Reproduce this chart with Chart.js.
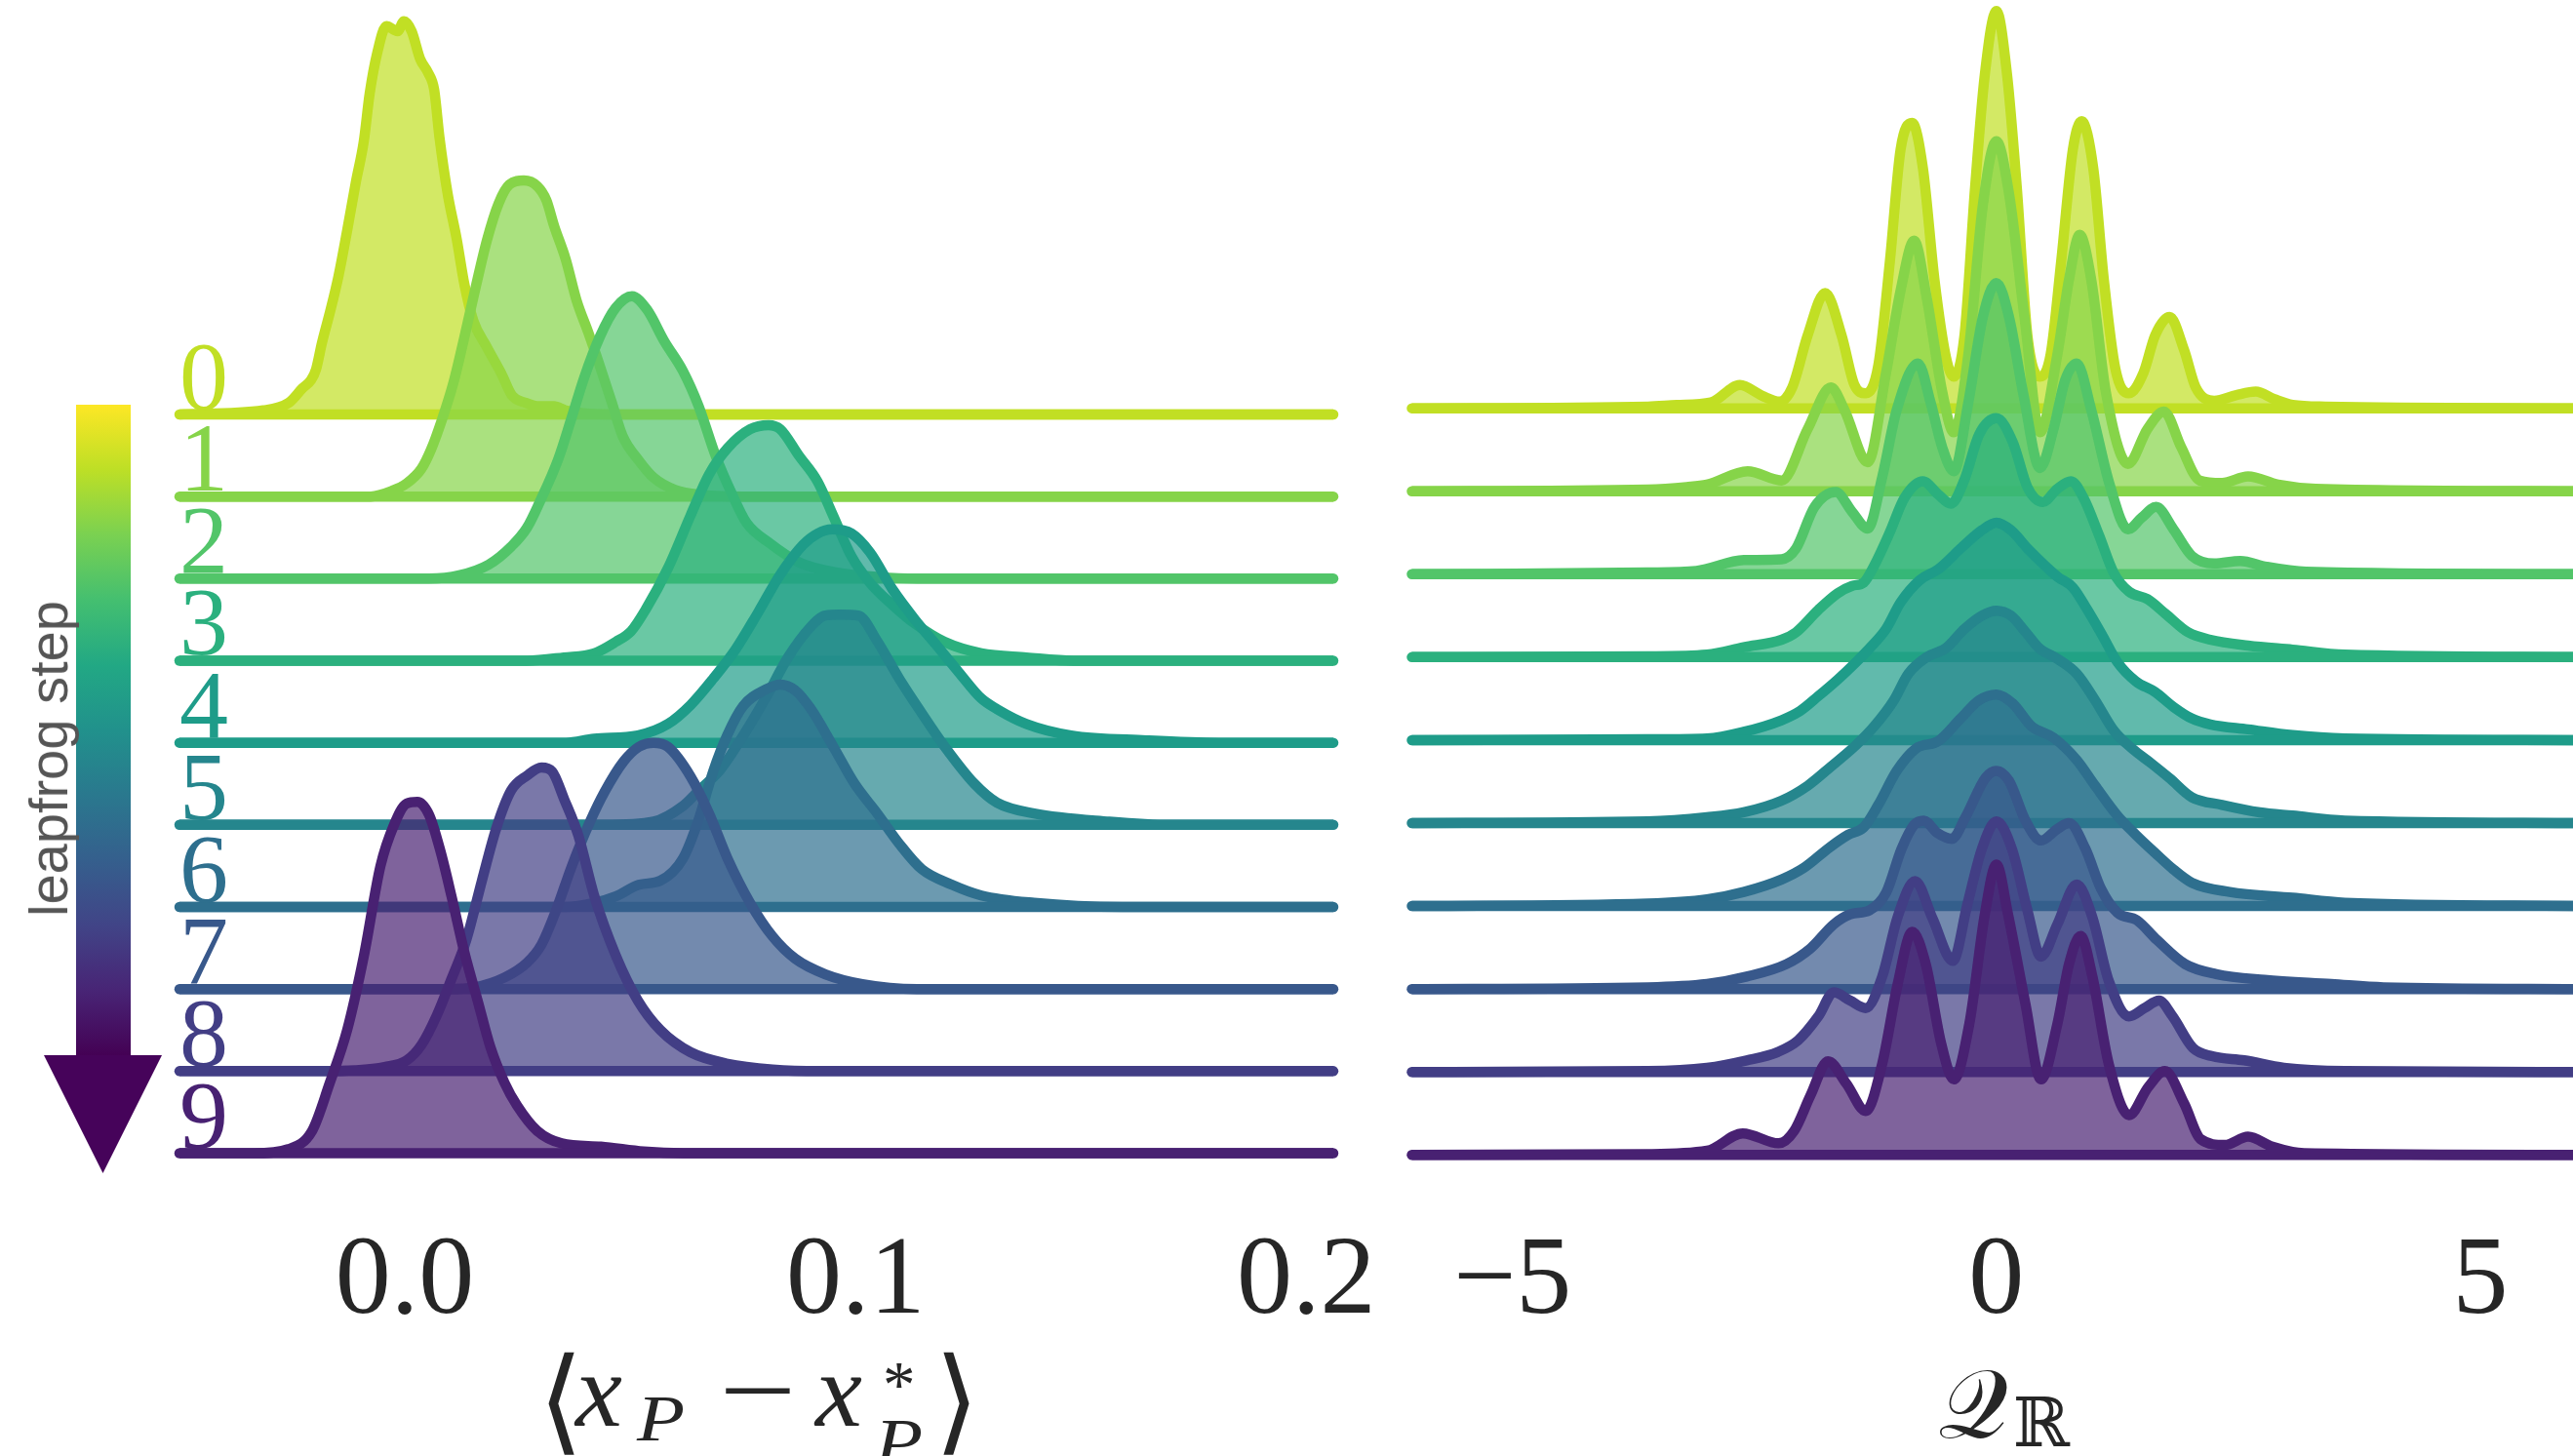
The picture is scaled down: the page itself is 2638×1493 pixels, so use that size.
<!DOCTYPE html>
<html>
<head>
<meta charset="utf-8">
<title>Leapfrog step ridgelines</title>
<script src="https://cdn.jsdelivr.net/npm/chart.js@4.4.1/dist/chart.umd.min.js"></script>
<style>
  html, body { margin: 0; padding: 0; background: #ffffff; width: 2638px; height: 1493px; overflow: hidden; }
  .panel { position: absolute; top: 0; }
  #shiftPanel { left: 0; width: 1420px; height: 1493px; }
  #chargePanel { left: 1420px; width: 1230px; height: 1493px; }
  .colorbar { position: absolute; left: 78px; top: 415px; width: 56px; height: 668px;
    background: linear-gradient(to bottom, #fde725 0%, #bddf26 10%, #7ad151 20%, #44bf70 30%, #22a884 40%,
      #21918c 50%, #2a788e 60%, #355f8d 70%, #414487 80%, #482475 90%, #440154 100%); }
  .arrowhead { position: absolute; left: 45px; top: 1082px; width: 121px; height: 121px; background: #46035a;
    clip-path: polygon(0 0, 100% 0, 50% 100%); }
  .cbar-label { position: absolute; left: 50px; top: 778px; transform: translate(-50%, -50%) rotate(-90deg);
    font-family: 'Liberation Sans', Arial, sans-serif; font-size: 56px; color: #555555; white-space: nowrap; line-height: 1; }
  .m { position: absolute; font-family: 'Liberation Serif', 'DejaVu Serif', serif; color: #262626; line-height: 1; white-space: nowrap; }
  .it { font-style: italic; }
  .wide { transform: scaleX(1.2); transform-origin: left center; }
  .op { transform: scaleX(1.3); transform-origin: left center; }
  .dv { font-family: 'DejaVu Serif', 'DejaVu Sans', serif; }
</style>
</head>
<body>
<div id="shiftPanel" class="panel"><canvas id="shiftChart" width="1420" height="1493"></canvas></div>
<div id="chargePanel" class="panel"><canvas id="chargeChart" width="1230" height="1493"></canvas></div>

<div class="colorbar"></div>
<div class="arrowhead"></div>
<div class="cbar-label">leapfrog step</div>

<!-- ⟨x_P − x*_P⟩ -->
<span class="m dv" style="left:552px; top:1376px; font-size:118px;">⟨</span>
<span class="m it" style="left:590px; top:1372px; font-size:108px;">x</span>
<span class="m it wide" style="left:653px; top:1421px; font-size:67px;">P</span>
<span class="m op" style="left:737px; top:1372px; font-size:108px;">−</span>
<span class="m it" style="left:836px; top:1372px; font-size:108px;">x</span>
<span class="m" style="left:905px; top:1386px; font-size:67px;">*</span>
<span class="m it wide" style="left:897px; top:1445px; font-size:67px;">P</span>
<span class="m dv" style="left:958px; top:1376px; font-size:118px;">⟩</span>

<!-- Q_R -->
<span class="m dv" style="left:1987px; top:1390px; font-size:100px;">𝒬</span>
<span class="m dv" style="left:2064px; top:1424px; font-size:70px;">ℝ</span>

<script>
// leapfrog steps, top row first
const steps = ['0', '1', '2', '3', '4', '5', '6', '7', '8', '9'];

const shiftTicks = [0, 0.1, 0.2];
const shiftTickLabels = ['0.0', '0.1', '0.2'];
const chargeTicks = [-5, 0, 5];
const chargeTickLabels = ['\u22125', '0', '5'];

// density of <x_P - x*_P> per step: [value, height in row spacings]
const shift0 = [[-0.05,0],[-0.0314,0.05],[-0.0258,0.14],[-0.0227,0.32],[-0.0208,0.42],[-0.0197,0.55],[-0.0184,0.87],[-0.0165,1.27],[-0.0147,1.69],[-0.0128,2.24],[-0.0109,2.82],[-0.0091,3.33],[-0.0078,3.91],[-0.0061,4.41],[-0.0041,4.73],[-0.0016,4.67],[-0.0002,4.79],[0.0015,4.67],[0.0034,4.33],[0.0052,4.16],[0.0065,3.96],[0.0077,3.37],[0.0095,2.69],[0.0115,2.14],[0.0132,1.59],[0.0152,1.14],[0.0182,0.82],[0.0214,0.50],[0.0238,0.23],[0.0269,0.14],[0.0294,0.10],[0.0331,0.10],[0.0357,0.05],[0.045,0],[0.206,0]];
const shift1 = [[-0.05,0],[-0.0076,0],[-0.0028,0.07],[0.0004,0.16],[0.0037,0.34],[0.0058,0.57],[0.0082,0.93],[0.0108,1.39],[0.0132,1.94],[0.0158,2.57],[0.0182,3.12],[0.0208,3.57],[0.0232,3.80],[0.0264,3.85],[0.0294,3.78],[0.0314,3.61],[0.0331,3.30],[0.0357,2.89],[0.0381,2.39],[0.0407,2.00],[0.0426,1.70],[0.0459,1.15],[0.0483,0.74],[0.0519,0.44],[0.0552,0.23],[0.0600,0.08],[0.0660,0.02],[0.075,0],[0.206,0]];
const shift2 = [[-0.05,0],[0.0054,0],[0.0121,0.04],[0.0186,0.17],[0.0236,0.39],[0.0271,0.62],[0.0299,0.93],[0.0340,1.45],[0.0370,1.96],[0.0398,2.45],[0.0433,2.95],[0.0468,3.30],[0.0504,3.44],[0.0537,3.28],[0.0576,2.89],[0.0617,2.53],[0.0652,2.10],[0.0690,1.49],[0.0725,1.04],[0.0758,0.68],[0.0810,0.43],[0.0874,0.20],[0.0952,0.08],[0.1050,0.02],[0.1136,0],[0.206,0]];
const shift3 = [[-0.05,0],[0.0271,0],[0.0353,0.04],[0.0420,0.09],[0.0468,0.23],[0.0502,0.36],[0.0535,0.63],[0.0584,1.13],[0.0634,1.77],[0.0675,2.27],[0.0716,2.59],[0.0766,2.82],[0.0807,2.87],[0.0833,2.82],[0.0874,2.50],[0.0916,2.18],[0.0950,1.77],[0.0991,1.27],[0.1032,0.95],[0.1082,0.68],[0.1132,0.45],[0.1197,0.23],[0.1279,0.09],[0.1379,0.04],[0.1483,0],[0.206,0]];
const shift4 = [[-0.05,0],[0.0357,0],[0.0420,0.05],[0.0517,0.09],[0.0584,0.23],[0.0634,0.46],[0.0684,0.78],[0.0734,1.14],[0.0784,1.59],[0.0833,2.05],[0.0883,2.41],[0.0916,2.55],[0.0948,2.60],[0.0991,2.55],[0.1032,2.32],[0.1082,1.87],[0.1132,1.50],[0.1181,1.18],[0.1229,0.86],[0.1279,0.54],[0.1314,0.41],[0.1379,0.23],[0.1478,0.09],[0.1645,0.03],[0.1807,0],[0.206,0]];
const shift5 = [[-0.05,0],[0.0444,0],[0.0552,0.04],[0.0617,0.23],[0.0651,0.41],[0.0701,0.68],[0.0751,1.09],[0.0801,1.55],[0.0850,2.04],[0.0900,2.41],[0.0933,2.55],[0.0965,2.56],[0.1006,2.55],[0.1048,2.24],[0.1097,1.78],[0.1147,1.36],[0.1197,0.96],[0.1264,0.50],[0.1314,0.27],[0.1396,0.14],[0.1563,0.04],[0.1699,0],[0.206,0]];
const shift6 = [[-0.05,0],[0.0357,0],[0.0420,0.05],[0.0468,0.13],[0.0519,0.27],[0.0567,0.32],[0.0617,0.59],[0.0651,1.05],[0.0684,1.65],[0.0716,2.10],[0.0751,2.45],[0.0801,2.65],[0.0833,2.71],[0.0866,2.64],[0.0900,2.42],[0.0950,1.96],[0.0998,1.50],[0.1048,1.14],[0.1097,0.77],[0.1147,0.46],[0.1214,0.27],[0.1279,0.14],[0.1396,0.05],[0.1591,0],[0.206,0]];
const shift7 = [[-0.05,0],[0.0097,0],[0.0154,0.02],[0.0221,0.14],[0.0271,0.32],[0.0303,0.54],[0.0335,0.95],[0.0370,1.49],[0.0411,2.04],[0.0444,2.41],[0.0485,2.77],[0.0519,2.95],[0.0552,3.00],[0.0584,2.95],[0.0634,2.59],[0.0675,2.14],[0.0716,1.59],[0.0766,1.05],[0.0816,0.64],[0.0866,0.37],[0.0933,0.18],[0.1015,0.06],[0.1136,0],[0.206,0]];
const shift8 = [[-0.05,0],[-0.0184,0],[-0.0110,0.01],[-0.0045,0.05],[0.0004,0.13],[0.0037,0.32],[0.0071,0.68],[0.0104,1.13],[0.0136,1.59],[0.0171,2.32],[0.0203,2.96],[0.0236,3.42],[0.0271,3.60],[0.0303,3.70],[0.0327,3.65],[0.0353,3.32],[0.0385,2.87],[0.0420,2.14],[0.0468,1.41],[0.0517,0.86],[0.0567,0.50],[0.0634,0.23],[0.0716,0.09],[0.0816,0.02],[0.0920,0],[0.206,0]];
const shift9 = [[-0.05,0],[-0.0335,0],[-0.0258,0.05],[-0.0206,0.27],[-0.0167,0.85],[-0.0128,1.50],[-0.0091,2.40],[-0.0054,3.50],[-0.0024,4.00],[0.0004,4.26],[0.0028,4.28],[0.0054,4.12],[0.0080,3.66],[0.0104,3.12],[0.0132,2.45],[0.0162,1.85],[0.0190,1.29],[0.0221,0.86],[0.0249,0.58],[0.0294,0.27],[0.0348,0.12],[0.0435,0.08],[0.0530,0.02],[0.0617,0],[0.206,0]];

// density of Q_R per step: [value, height in row spacings]
const charge0 = [[-6.04,0],[-3.6,0.02],[-3.3,0.04],[-2.95,0.07],[-2.65,0.28],[-2.42,0.15],[-2.24,0.08],[-2.11,0.25],[-1.95,0.88],[-1.77,1.39],[-1.60,0.88],[-1.47,0.29],[-1.35,0.18],[-1.22,0.52],[-1.10,1.78],[-0.99,3.12],[-0.87,3.44],[-0.76,2.90],[-0.64,1.55],[-0.52,0.61],[-0.44,0.38],[-0.33,0.88],[-0.22,2.67],[-0.12,4.02],[0,4.79],[0.11,4.02],[0.21,2.67],[0.32,0.88],[0.45,0.38],[0.56,0.65],[0.67,1.78],[0.79,3.12],[0.88,3.46],[1.00,2.90],[1.11,1.55],[1.23,0.47],[1.37,0.18],[1.52,0.43],[1.64,0.88],[1.79,1.10],[1.94,0.70],[2.06,0.25],[2.25,0.09],[2.48,0.16],[2.68,0.20],[2.87,0.11],[3.06,0.04],[3.4,0.02],[6.04,0]];
const charge1 = [[-6.04,0],[-3.6,0.02],[-3.2,0.05],[-2.99,0.08],[-2.57,0.24],[-2.22,0.13],[-1.95,0.75],[-1.71,1.25],[-1.57,0.98],[-1.33,0.35],[-1.14,1.43],[-0.99,2.42],[-0.85,3.02],[-0.72,2.33],[-0.56,1.20],[-0.44,0.71],[-0.29,1.65],[-0.14,3.45],[0,4.22],[0.13,3.59],[0.29,2.10],[0.45,0.71],[0.63,1.65],[0.75,2.55],[0.86,3.09],[0.98,2.55],[1.13,1.20],[1.36,0.33],[1.56,0.75],[1.73,0.96],[1.91,0.53],[2.10,0.13],[2.33,0.10],[2.60,0.18],[2.91,0.08],[3.3,0.03],[6.04,0]];
const charge2 = [[-6.04,0],[-3.6,0.02],[-3.1,0.04],[-2.61,0.17],[-2.22,0.18],[-2.07,0.31],[-1.88,0.81],[-1.66,0.99],[-1.49,0.75],[-1.33,0.55],[-1.18,1.17],[-1.03,1.98],[-0.81,2.54],[-0.68,2.07],[-0.56,1.53],[-0.44,1.24],[-0.29,2.07],[-0.14,3.10],[0,3.51],[0.13,3.10],[0.28,2.16],[0.45,1.28],[0.59,1.75],[0.71,2.34],[0.83,2.54],[0.98,1.98],[1.17,1.08],[1.36,0.54],[1.50,0.68],[1.65,0.81],[1.83,0.54],[2.02,0.22],[2.25,0.13],[2.52,0.16],[2.79,0.09],[3.2,0.03],[6.04,0]];
const charge3 = [[-6.04,0],[-3.6,0.01],[-2.99,0.03],[-2.61,0.12],[-2.22,0.21],[-2.07,0.30],[-1.84,0.57],[-1.64,0.77],[-1.49,0.86],[-1.37,0.90],[-1.26,1.11],[-1.10,1.51],[-0.95,1.92],[-0.76,2.12],[-0.60,1.96],[-0.47,1.85],[-0.33,2.14],[-0.18,2.68],[0,2.88],[0.17,2.59],[0.32,2.05],[0.48,1.87],[0.63,2.03],[0.77,2.12],[0.90,1.92],[1.06,1.47],[1.21,1.02],[1.37,0.79],[1.56,0.70],[1.75,0.52],[1.98,0.30],[2.21,0.21],[2.60,0.14],[3.06,0.09],[3.6,0.03],[6.04,0]];
const charge4 = [[-6.04,0],[-3.6,0.01],[-2.99,0.02],[-2.61,0.10],[-2.22,0.24],[-2.03,0.35],[-1.84,0.53],[-1.64,0.73],[-1.45,0.94],[-1.30,1.12],[-1.14,1.34],[-0.99,1.66],[-0.79,1.93],[-0.60,2.06],[-0.35,2.33],[-0.15,2.53],[0,2.62],[0.15,2.53],[0.33,2.30],[0.63,1.97],[0.79,1.84],[0.94,1.57],[1.10,1.25],[1.25,0.94],[1.44,0.71],[1.64,0.58],[1.83,0.40],[2.02,0.26],[2.21,0.19],[2.60,0.13],[3.06,0.06],[3.6,0.02],[6.04,0]];
const charge5 = [[-6.04,0],[-3.6,0.02],[-2.99,0.07],[-2.61,0.13],[-2.22,0.27],[-1.95,0.45],[-1.72,0.67],[-1.45,0.94],[-1.26,1.17],[-1.06,1.48],[-0.91,1.80],[-0.72,2.00],[-0.52,2.11],[-0.33,2.34],[-0.15,2.50],[0,2.56],[0.15,2.50],[0.31,2.29],[0.44,2.11],[0.63,1.98],[0.83,1.80],[1.02,1.48],[1.21,1.12],[1.40,0.90],[1.60,0.72],[1.79,0.54],[2.02,0.31],[2.33,0.22],[2.72,0.13],[3.06,0.09],[3.6,0.03],[6.04,0]];
const charge6 = [[-6.04,0],[-3.6,0.03],[-2.99,0.08],[-2.61,0.17],[-2.22,0.32],[-1.99,0.46],[-1.72,0.71],[-1.53,0.86],[-1.37,0.95],[-1.22,1.22],[-1.03,1.63],[-0.83,1.90],[-0.60,1.99],[-0.37,2.26],[-0.18,2.48],[0,2.55],[0.17,2.44],[0.36,2.17],[0.59,2.03],[0.83,1.76],[1.02,1.45],[1.25,1.09],[1.44,0.86],[1.64,0.64],[1.83,0.44],[2.02,0.28],[2.41,0.17],[3.06,0.10],[3.6,0.04],[6.04,0]];
const charge7 = [[-6.04,0],[-3.6,0.02],[-2.99,0.06],[-2.58,0.15],[-2.17,0.30],[-1.92,0.49],[-1.68,0.78],[-1.51,0.90],[-1.31,0.95],[-1.14,1.16],[-0.98,1.69],[-0.85,1.98],[-0.75,2.03],[-0.61,1.88],[-0.46,1.81],[-0.32,2.07],[-0.11,2.55],[0,2.63],[0.13,2.51],[0.30,2.03],[0.46,1.79],[0.63,1.93],[0.75,2.00],[0.92,1.69],[1.08,1.21],[1.25,0.92],[1.45,0.83],[1.66,0.59],[1.95,0.30],[2.27,0.18],[2.77,0.11],[3.46,0.06],[4.0,0.02],[6.04,0]];
const charge8 = [[-6.04,0],[-3.6,0.01],[-2.99,0.05],[-2.58,0.14],[-2.26,0.24],[-2.05,0.38],[-1.84,0.67],[-1.68,0.96],[-1.51,0.86],[-1.35,0.77],[-1.18,1.15],[-1.02,1.87],[-0.84,2.30],[-0.66,1.85],[-0.45,1.34],[-0.30,2.02],[-0.15,2.69],[0,3.02],[0.16,2.69],[0.32,1.95],[0.46,1.39],[0.63,1.78],[0.83,2.26],[0.99,1.87],[1.16,1.10],[1.37,0.67],[1.53,0.77],[1.68,0.86],[1.82,0.67],[2.03,0.29],[2.23,0.19],[2.56,0.14],[2.97,0.05],[3.6,0.01],[6.04,0]];
const charge9 = [[-6.04,0],[-3.6,0.01],[-2.99,0.05],[-2.62,0.26],[-2.25,0.14],[-2.09,0.29],[-1.92,0.72],[-1.74,1.13],[-1.55,0.86],[-1.35,0.53],[-1.18,1.10],[-1.02,2.06],[-0.87,2.69],[-0.73,2.30],[-0.57,1.34],[-0.44,0.91],[-0.28,1.58],[-0.12,2.90],[0,3.50],[0.12,2.90],[0.30,1.82],[0.46,0.91],[0.63,1.58],[0.75,2.30],[0.87,2.64],[0.99,2.16],[1.16,1.10],[1.37,0.48],[1.57,0.82],[1.74,1.01],[1.94,0.62],[2.11,0.19],[2.36,0.12],[2.60,0.22],[2.85,0.10],[3.18,0.02],[6.04,0]];

const shiftRows = [shift0, shift1, shift2, shift3, shift4, shift5, shift6, shift7, shift8, shift9];
const chargeRows = [charge0, charge1, charge2, charge3, charge4, charge5, charge6, charge7, charge8, charge9];

// viridis, reversed: step 0 light green, step 9 deep purple
const stepColors = ['#c1df24', '#86d449', '#52c569', '#2bb07e', '#1e9c89', '#25868d', '#2e6f8e', '#38588b', '#423e85', '#482172'];

function withAlpha(hex, a) {
  const n = parseInt(hex.slice(1), 16);
  return `rgba(${(n >> 16) & 255}, ${(n >> 8) & 255}, ${n & 255}, ${a})`;
}

function ridgeDatasets(rows, xMin, xMax) {
  const sets = [];
  const top = rows.length - 1;
  rows.forEach((pts, i) => {
    const base = top - i;
    sets.push({
      data: pts.map(([x, h]) => ({ x, y: base + h })),
      borderColor: stepColors[i],
      backgroundColor: withAlpha(stepColors[i], 0.7),
      borderWidth: 10.5,
      fill: { value: base },
      cubicInterpolationMode: 'monotone',
      borderJoinStyle: 'round',
      pointRadius: 0,
      clip: false
    });
    sets.push({
      data: [{ x: xMin, y: base }, { x: xMax, y: base }],
      borderColor: stepColors[i],
      borderWidth: 10.5,
      borderCapStyle: 'round',
      fill: false,
      pointRadius: 0,
      clip: false
    });
  });
  // later steps sit in front: earlier datasets get a higher order so they are painted first
  sets.forEach((d, k) => { d.order = sets.length - k; });
  return sets;
}

const tickFont = { family: "'Liberation Serif', 'DejaVu Serif', serif", size: 114 };

function ridgeChart(canvas, rows, o) {
  return new Chart(canvas, {
    type: 'line',
    data: { datasets: ridgeDatasets(rows, o.xMin, o.xMax) },
    options: {
      responsive: false,
      animation: false,
      devicePixelRatio: 1,
      layout: { padding: { left: o.padLeft, right: o.padRight, top: 0, bottom: 0 } },
      plugins: { legend: { display: false }, tooltip: { enabled: false }, title: { display: false } },
      scales: {
        x: {
          type: 'linear', min: o.xMin, max: o.xMax,
          grid: { display: false, drawTicks: false },
          border: { display: false },
          afterBuildTicks: s => { s.ticks = o.ticks.map(v => ({ value: v })); },
          afterFit: s => { s.height = 253; },
          ticks: {
            autoSkip: false, maxRotation: 0, minRotation: 0, padding: 8,
            color: '#262626', font: tickFont,
            callback: (v, i) => o.labels[i]
          }
        },
        y: { type: 'linear', display: false, min: o.yMin, max: o.yMax }
      }
    },
    plugins: o.plugins || []
  });
}

// step numbers sitting on the left end of each baseline
const stepLabels = {
  id: 'stepLabels',
  afterDatasetsDraw(chart) {
    const { ctx, chartArea, scales } = chart;
    ctx.save();
    ctx.font = "100px 'Liberation Serif', 'DejaVu Serif', serif";
    ctx.textAlign = 'center';
    ctx.textBaseline = 'alphabetic';
    steps.forEach((s, i) => {
      ctx.fillStyle = stepColors[i];
      ctx.fillText(s, chartArea.left + 25, scales.y.getPixelForValue(steps.length - 1 - i) - 6);
    });
    ctx.restore();
  }
};

ridgeChart(document.getElementById('shiftChart'), shiftRows, {
  xMin: -0.05, xMax: 0.206, padLeft: 184, padRight: 53,
  yMin: -0.683, yMax: 14.049,
  ticks: shiftTicks, labels: shiftTickLabels, plugins: [stepLabels]
});

ridgeChart(document.getElementById('chargeChart'), chargeRows, {
  xMin: -6.04, xMax: 6.04, padLeft: 27.5, padRight: 3.8,
  yMin: -0.655, yMax: 13.921,
  ticks: chargeTicks, labels: chargeTickLabels
});
</script>
</body>
</html>
